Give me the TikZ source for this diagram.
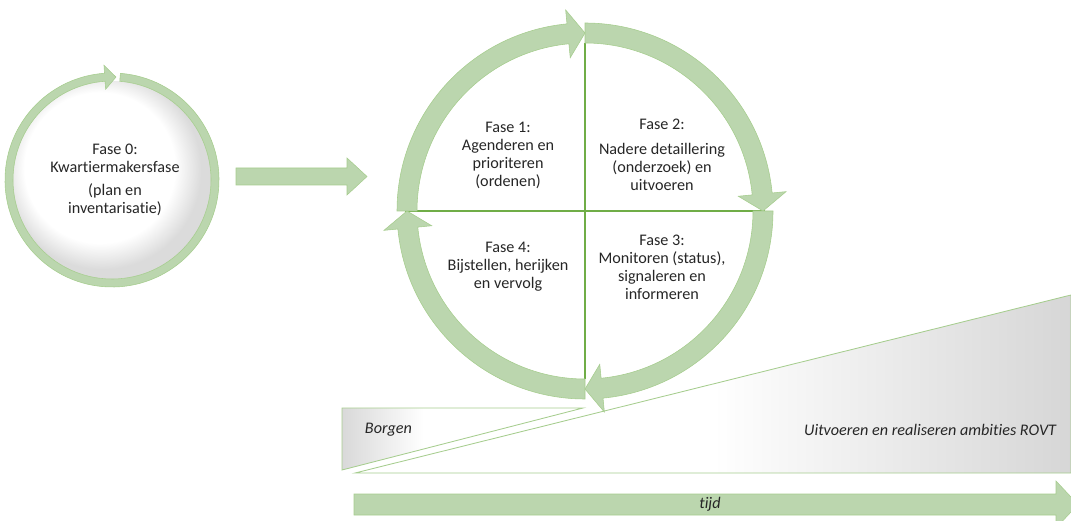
\documentclass[tikz,border=0pt]{standalone}
\usepackage{fontspec}
\setmainfont{Carlito}[Ligatures=NoCommon]
\usepackage{tikz}
\usetikzlibrary{calc}
\definecolor{ringgreen}{RGB}{187,214,174}
\definecolor{edgegreen}{RGB}{166,205,142}
\definecolor{linegreen}{RGB}{112,173,71}
\definecolor{textgray}{RGB}{38,38,38}
\pgfdeclareradialshading{diskshade}{\pgfpoint{-5bp}{5bp}}{color(0bp)=(white); color(19bp)=(white); color(25bp)=(black!14); color(50bp)=(black!14)}
\pgfdeclarehorizontalshading{borgshade}{100bp}{color(0bp)=(black!15); color(25bp)=(black!15); color(42bp)=(white); color(100bp)=(white)}
\pgfdeclarehorizontalshading{rovtshade}{100bp}{color(0bp)=(white); color(50bp)=(white); color(75bp)=(black!16); color(100bp)=(black!16)}
\tikzset{
	ringstyle/.style={fill=ringgreen,draw=edgegreen,line width=0.4pt},
	phasestyle/.style={align=center,text=textgray,font=\fontsize{11.5}{12.8}\selectfont},
	wedgestyle/.style={draw=edgegreen,line width=0.6pt},
	labelstyle/.style={text=textgray,font=\fontsize{11.5}{12.8}\selectfont\itshape},
	crossstyle/.style={draw=linegreen,line width=0.9pt}
}

\begin{document}
\begin{tikzpicture}[x=0.025cm,y=0.025cm]
	\useasboundingbox (0,0) rectangle (1071,520);
	\clip (0,0) rectangle (1071,520);
	% time wedges
	\shade[shading=rovtshade] (355,47) -- (1071,47) -- (1071,225) -- cycle;
	\draw[wedgestyle] (355,47) -- (1071,47) -- (1071,225) -- cycle;
	\shade[shading=borgshade] (342,112) -- (583,112) -- (342,50) -- cycle;
	\draw[wedgestyle] (342,112) -- (583,112) -- (342,50) -- cycle;
	\node[labelstyle,anchor=west] (borg) at (360,90) {Borgen};
	\node[labelstyle,anchor=east] (rovt) at (1061,90) {Uitvoeren en realiseren ambities ROVT};
	\filldraw[ringstyle] (354,26) -- (1056,26) -- (1056,39) -- (1078,15.5) -- (1056,-8) -- (1056,5) -- (354,5) -- cycle;
	\node[labelstyle] (tijd) at (710,16) {tijd};
	% fase 0
	\coordinate (c0) at (112,340);
	\shade[shading=diskshade] (c0) circle (99);
	\begin{scope}[shift={(112,340)}]
	\filldraw[ringstyle] (85.5:107) arc[start angle=85.5,end angle=-266,radius=107] -- (-266:115) -- (-272.2:103) -- (-266:91) -- (-266:99) arc[start angle=-266,end angle=85.5,radius=99] -- cycle;
	\end{scope}
	\node[phasestyle] (f0) at (115,340) {Fase 0:\\Kwartiermakersfase\\[4pt](plan en\\inventarisatie)};
	\filldraw[ringstyle] (236,335) -- (347,335) -- (347,325) -- (367,343.5) -- (347,362) -- (347,352) -- (236,352) -- cycle;
	% cycle fase 1-4
	\coordinate (c) at (585,309);
	\draw[crossstyle] (405,309) -- (765,309);
	\draw[crossstyle] (585,477) -- (585,141);
	\begin{scope}[shift={(585,309)}]
	\filldraw[ringstyle] (180:188) arc[start angle=180,end angle=95.5,radius=188] -- (95.5:202) -- (90:178) -- (95.5:154) -- (95.5:168) arc[start angle=95.5,end angle=180,radius=168] -- cycle;
	\filldraw[ringstyle] (90:188) arc[start angle=90,end angle=5.5,radius=188] -- (5.5:202) -- (0:178) -- (5.5:154) -- (5.5:168) arc[start angle=5.5,end angle=90,radius=168] -- cycle;
	\filldraw[ringstyle] (0:188) arc[start angle=0,end angle=-84.5,radius=188] -- (-84.5:202) -- (-90:178) -- (-84.5:154) -- (-84.5:168) arc[start angle=-84.5,end angle=0,radius=168] -- cycle;
	\filldraw[ringstyle] (-90:188) arc[start angle=-90,end angle=-174.5,radius=188] -- (-174.5:202) -- (-180:178) -- (-174.5:154) -- (-174.5:168) arc[start angle=-174.5,end angle=-90,radius=168] -- cycle;
	\end{scope}
	\node[phasestyle] (f1) at (508,365) {Fase 1:\\Agenderen en\\prioriteren\\(ordenen)};
	\node[phasestyle] (f2) at (662,365) {Fase 2:\\[5pt]Nadere detaillering\\(onderzoek) en\\uitvoeren};
	\node[phasestyle] (f3) at (662,253) {Fase 3:\\Monitoren (status),\\signaleren en\\informeren};
	\node[phasestyle] (f4) at (508,253) {Fase 4:\\Bijstellen, herijken\\en vervolg};
\end{tikzpicture}
\end{document}
